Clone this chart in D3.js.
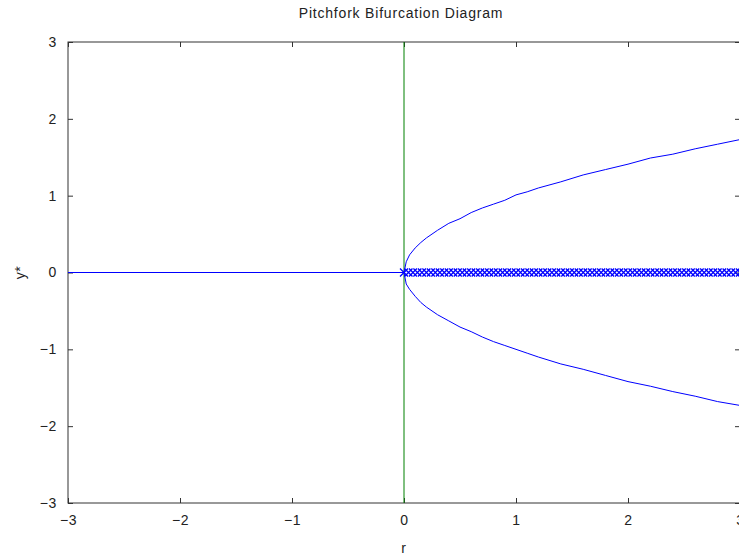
<!DOCTYPE html>
<html>
<head>
<meta charset="utf-8">
<script src="https://cdn.jsdelivr.net/npm/d3@7"></script>
<style>
  html, body { margin: 0; padding: 0; background: #fff; }
  svg { display: block; }
  text { font-family: "Liberation Sans", Arial, sans-serif; }
</style>
</head>
<body>
<svg id="chart" width="739" height="557"></svg>
<script>
// Axis ticks
const xTicks = [-3, -2, -1, 0, 1, 2, 3];
const yTicks = [-3, -2, -1, 0, 1, 2, 3];

// Stable equilibrium y* = 0 for r < 0
const stableZeroR = [-3, 0];
const stableZeroY = [0, 0];

// Stable upper and lower branches for r > 0
const branchR = [0, 0.02, 0.05, 0.1, 0.15, 0.2, 0.3, 0.4, 0.5, 0.6, 0.7, 0.8, 0.9, 1.0, 1.1, 1.2, 1.4, 1.6, 1.8, 2.0, 2.2, 2.4, 2.6, 2.8, 3.0];
const upperY  = [0, 0.14, 0.23, 0.32, 0.39, 0.45, 0.55, 0.64, 0.70, 0.78, 0.84, 0.89, 0.94, 1.01, 1.05, 1.10, 1.18, 1.27, 1.34, 1.41, 1.49, 1.54, 1.61, 1.67, 1.73];
const lowerY  = [0, -0.15, -0.22, -0.31, -0.39, -0.45, -0.55, -0.63, -0.71, -0.77, -0.84, -0.90, -0.95, -1.00, -1.05, -1.10, -1.19, -1.26, -1.34, -1.42, -1.48, -1.55, -1.61, -1.68, -1.73];

// Unstable equilibrium y* = 0 for r > 0 (marked points)
const unstableR = [0, 0.04, 0.08, 0.12, 0.16, 0.2, 0.24, 0.28, 0.32, 0.36, 0.4, 0.44, 0.48, 0.52, 0.56, 0.6, 0.64, 0.68, 0.72, 0.76, 0.8, 0.84, 0.88, 0.92, 0.96, 1.0, 1.04, 1.08, 1.12, 1.16, 1.2, 1.24, 1.28, 1.32, 1.36, 1.4, 1.44, 1.48, 1.52, 1.56, 1.6, 1.64, 1.68, 1.72, 1.76, 1.8, 1.84, 1.88, 1.92, 1.96, 2.0, 2.04, 2.08, 2.12, 2.16, 2.2, 2.24, 2.28, 2.32, 2.36, 2.4, 2.44, 2.48, 2.52, 2.56, 2.6, 2.64, 2.68, 2.72, 2.76, 2.8, 2.84, 2.88, 2.92, 2.96, 3.0];
const unstableY = unstableR.map(() => 0);

// Bifurcation point marker line r = 0
const bifR = [0, 0];
const bifY = [-3, 3];

const svg = d3.select("#chart");
const pLeft = 68, pRight = 740, pTop = 42, pBottom = 503;

const x = d3.scaleLinear().domain([-3, 3]).range([pLeft, pRight]);
const y = d3.scaleLinear().domain([-3, 3]).range([pBottom, pTop]);

const axisColor = "#333";
const tickLen = 5;
const labelStyle = sel => sel
  .attr("fill", "#222")
  .style("font-size", "14px")
  .style("letter-spacing", "0.6px")
  .style("font-family", "'Liberation Sans', Arial, sans-serif");

// Plot frame
svg.append("rect")
  .attr("x", pLeft).attr("y", pTop)
  .attr("width", pRight - pLeft).attr("height", pBottom - pTop)
  .attr("fill", "none").attr("stroke", axisColor).attr("stroke-width", 1);

// Inward ticks on all four sides
const axes = [
  d3.axisBottom(x).tickValues(xTicks).tickSizeInner(-tickLen).tickSizeOuter(0).tickPadding(12),
  d3.axisTop(x).tickValues(xTicks).tickSizeInner(-tickLen).tickSizeOuter(0).tickFormat(""),
  d3.axisLeft(y).tickValues(yTicks).tickSizeInner(-tickLen).tickSizeOuter(0).tickPadding(11),
  d3.axisRight(y).tickValues(yTicks).tickSizeInner(-tickLen).tickSizeOuter(0).tickFormat("")
];
const pos = [`translate(0,${pBottom})`, `translate(0,${pTop})`, `translate(${pLeft},0)`, `translate(${pRight},0)`];
axes.forEach((a, i) => {
  const g = svg.append("g").attr("transform", pos[i]).call(a);
  g.select(".domain").remove();
  g.selectAll("line").attr("stroke", axisColor);
  if (i === 0 || i === 2) {
    g.selectAll("text")
      .call(labelStyle)
      .text(d => (d < 0 ? "\u2212" + Math.abs(d) : d));
  }
});

const line = d3.line().x(d => x(d[0])).y(d => y(d[1]));

// Green vertical line at r = 0
svg.append("path")
  .datum(d3.zip(bifR, bifY))
  .attr("d", line).attr("fill", "none")
  .attr("stroke", "#008000").attr("stroke-width", 1);

// Stable zero branch r < 0
svg.append("path")
  .datum(d3.zip(stableZeroR, stableZeroY))
  .attr("d", line).attr("fill", "none")
  .attr("stroke", "#0000ff").attr("stroke-width", 1);

// Upper and lower stable branches
[upperY, lowerY].forEach(ys => {
  svg.append("path")
    .datum(d3.zip(branchR, ys))
    .attr("d", line).attr("fill", "none")
    .attr("stroke", "#0000ff").attr("stroke-width", 1);
});

// Unstable branch marked with x symbols
const m = 4;
svg.append("g").selectAll("path")
  .data(d3.zip(unstableR, unstableY))
  .join("path")
  .attr("d", d => {
    const cx = x(d[0]), cy = y(d[1]);
    return `M${cx - m},${cy - m}L${cx + m},${cy + m}M${cx - m},${cy + m}L${cx + m},${cy - m}`;
  })
  .attr("stroke", "#0000ff").attr("stroke-width", 1.3).attr("fill", "none");

// Title and axis labels
svg.append("text")
  .attr("x", 401).attr("y", 18)
  .attr("text-anchor", "middle")
  .call(labelStyle)
  .style("letter-spacing", "0.8px")
  .text("Pitchfork Bifurcation Diagram");

svg.append("text")
  .attr("x", x(0)).attr("y", 553)
  .attr("text-anchor", "middle")
  .call(labelStyle)
  .text("r");

svg.append("text")
  .attr("transform", `translate(25,${y(0)}) rotate(-90)`)
  .attr("text-anchor", "middle")
  .call(labelStyle)
  .text("y*");
</script>
</body>
</html>
